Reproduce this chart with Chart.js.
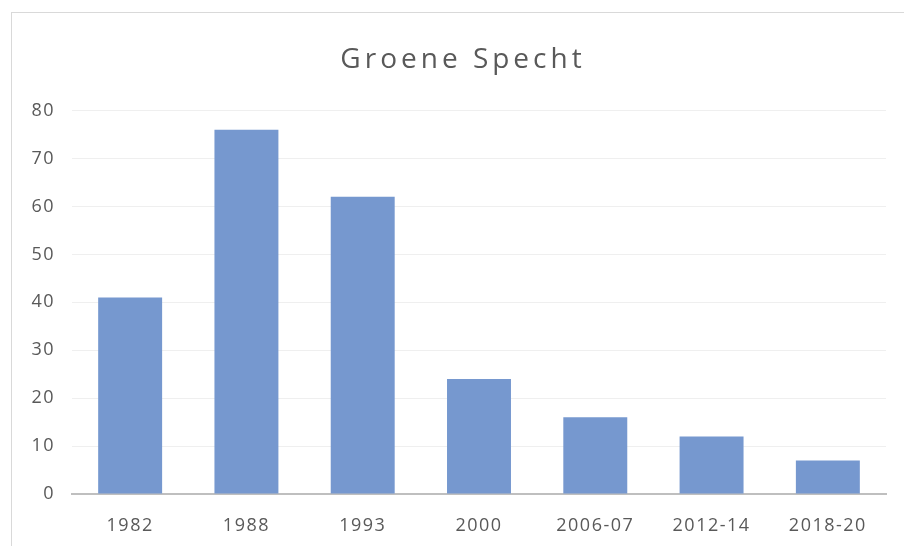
<!DOCTYPE html>
<html>
<head>
<meta charset="utf-8">
<script src="https://cdn.jsdelivr.net/npm/chart.js@4/dist/chart.umd.min.js"></script>
<style>
html,body{margin:0;padding:0;background:#fff;}
#wrap{position:relative;width:904px;height:546px;}
#frame{position:absolute;left:11px;top:12px;width:904px;height:560px;border:1px solid #d9d9d9;box-sizing:border-box;pointer-events:none;}
canvas{position:absolute;left:0;top:0;}
</style>
</head>
<body>
<div id="wrap">
<canvas id="c" width="904" height="546"></canvas>
<div id="frame"></div>
</div>
<script>
const titleText = "Groene Specht";
const categories = ["1982", "1988", "1993", "2000", "2006-07", "2012-14", "2018-20"];
const counts = [41, 76, 62, 24, 16, 12, 7];
const yTicks = [0, 10, 20, 30, 40, 50, 60, 70, 80];

const fontFam = "'Open Sans', 'Liberation Sans', sans-serif";

const spacingPlugin = {
  id: 'spacing',
  afterInit(chart) {
    const tb = chart.titleBlock;
    if (tb && !tb._wrapped) {
      const orig = tb.draw.bind(tb);
      tb.draw = function() {
        const ctx = chart.ctx;
        ctx.save();
        ctx.letterSpacing = '4px';
        ctx.translate(20, 0);
        orig();
        ctx.restore();
      };
      tb._wrapped = true;
    }
  },
  beforeDraw(chart) {
    chart.ctx.letterSpacing = '1.5px';
  }
};

new Chart(document.getElementById('c'), {
  type: 'bar',
  data: {
    labels: categories,
    datasets: [{
      data: counts,
      backgroundColor: 'rgb(118,152,207)',
      borderWidth: 0,
      categoryPercentage: 1.0,
      barPercentage: 0.55
    }]
  },
  plugins: [spacingPlugin],
  options: {
    responsive: false,
    animation: false,
    layout: { padding: { left: 0, right: 18, top: 43, bottom: 0 } },
    plugins: {
      legend: { display: false },
      tooltip: { enabled: false },
      title: {
        display: true,
        text: titleText,
        color: '#595959',
        font: { family: fontFam, size: 28, weight: 'normal' },
        padding: { top: 0, bottom: 34 }
      }
    },
    scales: {
      x: {
        afterFit: (axis) => { axis.height = 52; },
        grid: { display: false, drawTicks: false },
        border: { display: true, color: '#bfbfbf', width: 2 },
        ticks: { color: '#595959', font: { family: fontFam, size: 18 }, padding: 21, maxRotation: 0 }
      },
      y: {
        min: 0, max: 80,
        afterFit: (axis) => { axis.width = 72; },
        afterBuildTicks: (axis) => { axis.ticks = yTicks.map(v => ({ value: v })); },
        grid: { color: '#efefef', lineWidth: 1, drawTicks: false },
        border: { display: false },
        ticks: { color: '#595959', font: { family: fontFam, size: 18 }, padding: 17 }
      }
    }
  }
});
</script>
</body>
</html>
